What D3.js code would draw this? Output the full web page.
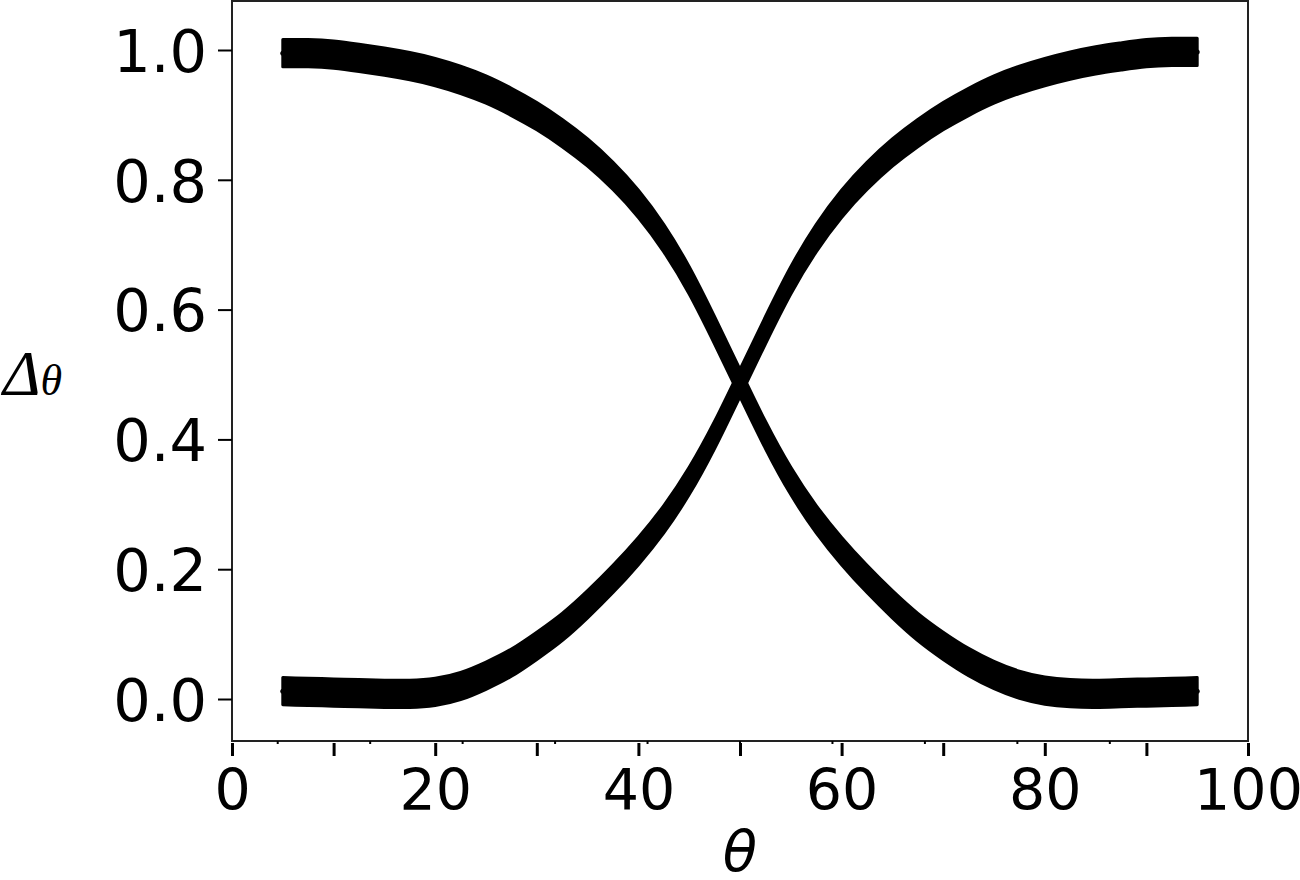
<!DOCTYPE html>
<html>
<head>
<meta charset="utf-8">
<script src="https://cdn.jsdelivr.net/npm/d3@7"></script>
<style>
  body { margin: 0; background: #fff; }
  .tick text { font-family: "DejaVu Sans", sans-serif; }
</style>
</head>
<body>
<svg class="crossing"></svg>
<script>
var theta = [5, 7.5, 10, 12.5, 15, 17.5, 20, 22.5, 25, 27.5, 30, 32.5, 35, 37.5,
             40, 42.5, 45, 47.5, 50, 52.5, 55, 57.5, 60, 62.5, 65, 67.5, 70, 72.5,
             75, 77.5, 80, 82.5, 85, 87.5, 90, 92.5, 95];

// falling band (starts near 1)
var falling = [0.995, 0.995, 0.993, 0.988, 0.982, 0.975, 0.966, 0.954, 0.939, 0.92,
               0.898, 0.872, 0.842, 0.806, 0.763, 0.71, 0.645, 0.568, 0.487, 0.407,
               0.336, 0.277, 0.228, 0.185, 0.146, 0.111, 0.082, 0.057, 0.037, 0.022,
               0.013, 0.009, 0.008, 0.009, 0.01, 0.011, 0.012];

// rising band (starts near 0)
var rising = [0.012, 0.011, 0.01, 0.009, 0.008, 0.008, 0.011, 0.02, 0.036, 0.056,
              0.082, 0.111, 0.146, 0.185, 0.228, 0.277, 0.336, 0.407, 0.487, 0.568,
              0.645, 0.71, 0.763, 0.806, 0.842, 0.872, 0.898, 0.92, 0.939, 0.954,
              0.966, 0.976, 0.984, 0.99, 0.995, 0.997, 0.997];

var xTicks = [0, 10, 20, 30, 40, 50, 60, 70, 80, 90, 100];
var xLabels = ["0", "", "20", "", "40", "", "60", "", "80", "", "100"];
var xSmallTicks = [4.5, 13.6, 22.7, 31.8, 40.9, 50.0, 59.1, 68.2, 77.3, 86.4];
var yTicks = [0, 0.2, 0.4, 0.6, 0.8, 1.0];

var margin = {top: 1, bottom: 139, left: 232, right: 52},
    width = 1300 - margin.left - margin.right,
    height = 880 - margin.top - margin.bottom;

var spread = 0.021; // vertical scatter of the points around each band

var x = d3.scaleLinear().domain([0, 100]).range([0, width]);
var y = d3.scaleLinear().domain([-0.0647, 1.0755]).range([height, 0]);

var svg = d3.select(".crossing")
    .attr("width", 1300)
    .attr("height", 880)
  .append("g")
    .attr("transform", "translate(" + margin.left + "," + margin.top + ")");

var bands = [falling, rising].map(function(vals) {
  return theta.map(function(t, i) { return {t: t, v: vals[i]}; });
});

var band = d3.area()
    .curve(d3.curveNatural)
    .x(function(d) { return x(d.t); })
    .y0(function(d) { return y(d.v - spread); })
    .y1(function(d) { return y(d.v + spread); });

svg.selectAll(".band")
    .data(bands)
  .enter().append("path")
    .attr("class", "band")
    .attr("d", band)
    .attr("fill", "#000")
    .attr("stroke", "#000")
    .attr("stroke-width", 3)
    .attr("stroke-linejoin", "round");

// the read-off points
bands.forEach(function(b) {
  svg.selectAll(null)
      .data(b)
    .enter().append("circle")
      .attr("r", 2.5)
      .attr("cx", function(d) { return x(d.t); })
      .attr("cy", function(d) { return y(d.v); })
      .attr("fill", "#000");
});

// frame
svg.append("rect")
    .attr("width", width)
    .attr("height", height)
    .attr("fill", "none")
    .attr("stroke", "#222")
    .attr("stroke-width", 2);

// y axis
var yAxis = svg.append("g")
    .call(d3.axisLeft(y).tickValues(yTicks).tickFormat(d3.format(".1f"))
      .tickSize(14).tickPadding(11));
yAxis.select(".domain").remove();
yAxis.selectAll(".tick line").attr("stroke", "#000").attr("stroke-width", 2);
yAxis.selectAll(".tick text")
    .attr("font-size", 59)
    .attr("fill", "#000")
    .attr("dy", "0.36em");

// x axis, a little below the frame
var xAxis = svg.append("g")
    .attr("transform", "translate(0," + (height + 2) + ")")
    .call(d3.axisBottom(x).tickValues(xTicks)
      .tickFormat(function(d, i) { return xLabels[i]; })
      .tickSize(13).tickPadding(14));
xAxis.select(".domain").remove();
xAxis.selectAll(".tick line").attr("stroke", "#000").attr("stroke-width", 3);
xAxis.selectAll(".tick text")
    .attr("font-size", 57)
    .attr("fill", "#000");

svg.selectAll(".small-tick")
    .data(xSmallTicks)
  .enter().append("line")
    .attr("class", "small-tick")
    .attr("x1", function(d) { return x(d); })
    .attr("x2", function(d) { return x(d); })
    .attr("y1", height)
    .attr("y2", height + 3)
    .attr("stroke", "#000")
    .attr("stroke-width", 2);

// axis labels
svg.append("text")
    .attr("x", width / 2)
    .attr("y", 870)
    .attr("text-anchor", "middle")
    .attr("font-family", "DejaVu Sans, sans-serif")
    .attr("font-style", "italic")
    .attr("font-size", 56)
    .text("θ");

var yLabel = svg.append("text")
    .attr("x", -229)
    .attr("y", 394)
    .attr("font-family", "Liberation Serif, serif")
    .attr("font-style", "italic");
yLabel.append("tspan").attr("font-size", 64).text("Δ");
yLabel.append("tspan").attr("font-size", 44).text("θ");
</script>
</body>
</html>
